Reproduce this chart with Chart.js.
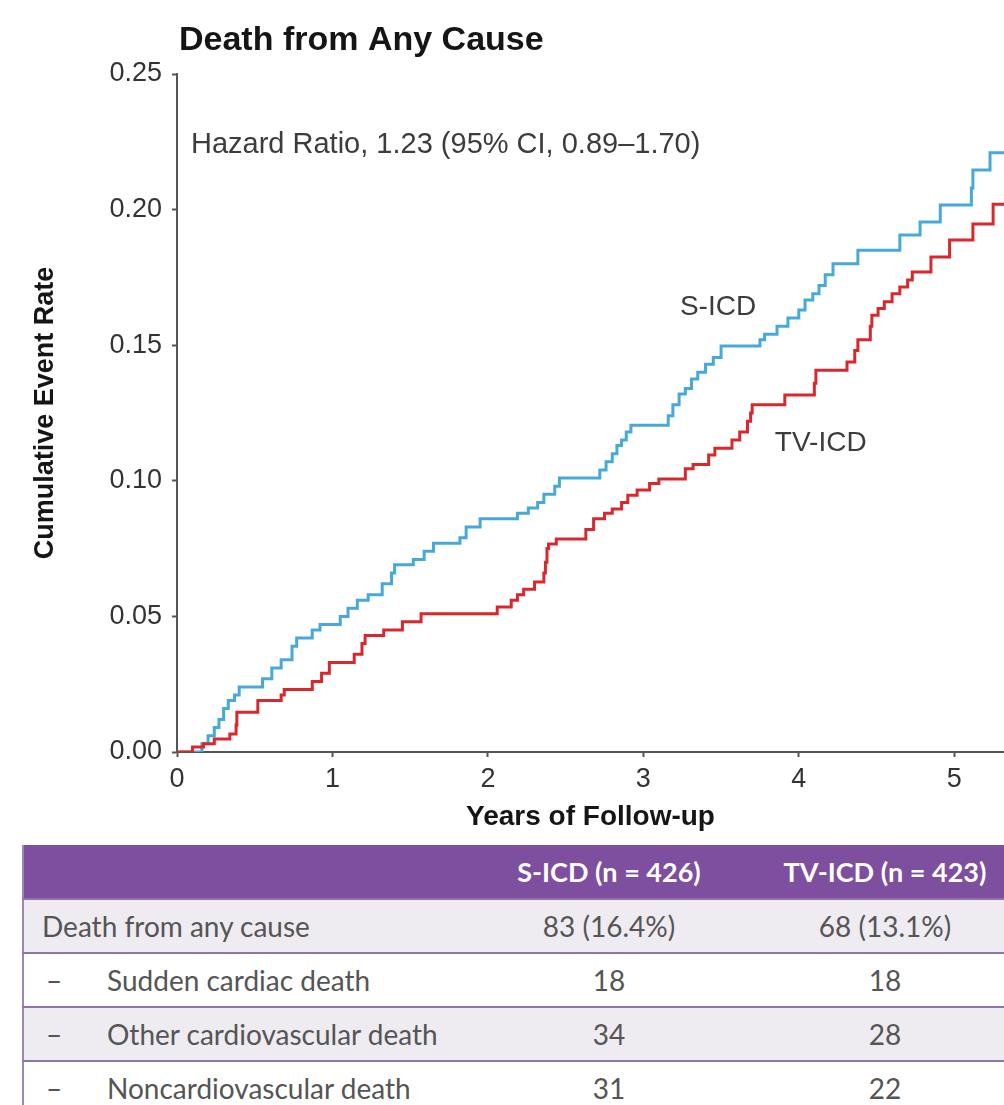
<!DOCTYPE html>
<html>
<head>
<meta charset="utf-8">
<script src="https://cdn.jsdelivr.net/npm/chart.js@4.4.0/dist/chart.umd.min.js"></script>
<style>
  body { margin:0; background:#fff; width:1004px; height:1105px; overflow:hidden; position:relative; }
  #chart { position:absolute; left:0; top:0; }
  #tbl {
    position:absolute; left:22px; top:845px; width:1010px;
    border-collapse:collapse; table-layout:fixed;
    font-family:Lato,"DejaVu Sans Condensed",sans-serif;
    font-size:28px; color:#555;
    border-left:2px solid #9c86b8;
  }
  #tbl th { background:#7d4f9e; color:#fff; font-weight:bold; font-size:27px; height:53px; padding:0; text-align:center; }
  #tbl td { height:52px; padding:0; border-top:2px solid #8f74ae; }
  #tbl tr.shade td { background:#eeebf1; }
  #tbl td.num { text-align:center; }
  #tbl td.lab { padding-left:18px; }
  #tbl .dash { display:inline-block; width:65px; padding-left:4px; box-sizing:border-box; }
</style>
</head>
<body>
<canvas id="chart" width="1004" height="845"></canvas>
<table id="tbl">
  <colgroup><col style="width:458px"><col style="width:256px"><col style="width:296px"></colgroup>
  <thead><tr id="head"></tr></thead>
  <tbody id="body"></tbody>
</table>
<script>
// S-ICD curve (years, cumulative event rate)
const sicdTimes = [0, 0.16, 0.20, 0.24, 0.27, 0.30, 0.33, 0.37, 0.40, 0.55, 0.61, 0.67, 0.74, 0.77, 0.87, 0.92,
  1.05, 1.10, 1.16, 1.23, 1.32, 1.38, 1.40, 1.52, 1.59, 1.65, 1.82, 1.86, 1.95, 2.19, 2.26, 2.32, 2.36, 2.43, 2.46,
  2.72, 2.76, 2.80, 2.83, 2.86, 2.89, 2.92, 3.16, 3.19, 3.23, 3.27, 3.31, 3.35, 3.40, 3.45, 3.50, 3.75, 3.78, 3.86,
  3.93, 4.00, 4.04, 4.09, 4.13, 4.17, 4.22, 4.38, 4.65, 4.78, 4.91, 5.11, 5.12, 5.23, 5.32];
const sicdRates = [0, .003, .006, .009, .012, .016, .019, .021, .024, .027, .031, .034, .039, .042, .045, .047,
  .050, .053, .056, .058, .062, .066, .069, .071, .074, .077, .079, .083, .086, .088, .090, .092, .095, .098, .101,
  .104, .107, .110, .113, .115, .118, .1205, .124, .128, .132, .134, .1375, .140, .143, .1455, .1497, .152, .154, .157,
  .160, .163, .1667, .169, .172, .176, .180, .185, .1906, .1954, .2017, .208, .2146, .221, .221];

// TV-ICD curve
const tvicdTimes = [0, 0.10, 0.17, 0.24, 0.34, 0.38, 0.385, 0.52, 0.67, 0.69, 0.87, 0.93, 0.98, 1.14, 1.19, 1.21,
  1.33, 1.45, 1.57, 2.06, 2.15, 2.19, 2.23, 2.30, 2.36, 2.37, 2.38, 2.39, 2.44, 2.63, 2.68, 2.75, 2.80, 2.86, 2.90,
  2.96, 3.04, 3.10, 3.27, 3.32, 3.42, 3.46, 3.57, 3.62, 3.67, 3.69, 3.70, 3.91, 4.10, 4.11, 4.31, 4.36, 4.38, 4.46,
  4.47, 4.51, 4.55, 4.60, 4.65, 4.70, 4.73, 4.85, 4.97, 5.12, 5.25, 5.32];
const tvicdRates = [0, .0018, .003, .0048, .0066, .010, .0147, .019, .021, .023, .026, .029, .033, .036, .040, .043,
  .045, .048, .051, .0535, .056, .058, .060, .0627, .066, .070, .075, .0767, .0785, .082, .086, .088, .0896, .092, .0947,
  .0966, .099, .1007, .1044, .106, .1095, .112, .115, .118, .122, .125, .128, .1316, .136, .1408, .1438, .148, .152, .157,
  .161, .1635, .166, .169, .1715, .174, .177, .1825, .1888, .1947, .202, .202];

const xTicks = [0, 1, 2, 3, 4, 5];
const yTicks = [0, 0.05, 0.10, 0.15, 0.20, 0.25];

const chartTitle = "Death from Any Cause";
const hazardText = "Hazard Ratio, 1.23 (95% CI, 0.89\u20131.70)";

// table below the chart
const tableHeader = ["", "S-ICD (n = 426)", "TV-ICD (n = 423)"];
const rowLabels = ["Death from any cause", "Sudden cardiac death", "Other cardiovascular death", "Noncardiovascular death"];
const sicdCounts = ["83 (16.4%)", "18", "34", "31"];
const tvicdCounts = ["68 (13.1%)", "18", "28", "22"];

Chart.defaults.font.family = '"Liberation Sans", Arial, sans-serif';

const toPoints = (ts, rs) => ts.map((t, i) => ({x: t, y: rs[i]}));

const textPlugin = {
  id: "texts",
  afterDraw(chart) {
    const {ctx, scales: {x, y}} = chart;
    ctx.save();
    ctx.textBaseline = "alphabetic";
    ctx.textAlign = "left";
    ctx.fillStyle = "#151515";
    ctx.font = 'bold 34px "Liberation Sans", Arial, sans-serif';
    ctx.fillText(chartTitle, 179, 50);
    ctx.fillStyle = "#3c3c3c";
    ctx.font = '29px "Liberation Sans", Arial, sans-serif';
    ctx.fillText(hazardText, x.getPixelForValue(0.09), y.getPixelForValue(0.221));
    ctx.font = '28px "Liberation Sans", Arial, sans-serif';
    ctx.fillText("S-ICD", x.getPixelForValue(3.235), y.getPixelForValue(0.161));
    ctx.fillText("TV-ICD", x.getPixelForValue(3.846), y.getPixelForValue(0.111));
    ctx.restore();
  }
};

new Chart(document.getElementById("chart"), {
  type: "line",
  data: {
    datasets: [
      {label: "TV-ICD", data: toPoints(tvicdTimes, tvicdRates), borderColor: "#d8282e"},
      {label: "S-ICD", data: toPoints(sicdTimes, sicdRates), borderColor: "#46a9d8"}
    ]
  },
  options: {
    responsive: false,
    animation: false,
    parsing: false,
    elements: {
      line: {borderWidth: 3, stepped: "before", tension: 0},
      point: {radius: 0}
    },
    layout: {padding: {top: 74, left: 0, right: 0, bottom: 0}},
    plugins: {legend: {display: false}, tooltip: {enabled: false}},
    scales: {
      x: {
        type: "linear", min: 0, max: 5.32,
        afterBuildTicks: s => { s.ticks = xTicks.map(v => ({value: v})); },
        afterFit: s => { s.height = 93; },
        grid: {drawOnChartArea: false, tickLength: 5, color: "#555", tickWidth: 2},
        border: {color: "#555", width: 2},
        ticks: {padding: 6, color: "#333", font: {size: 27}},
        title: {display: true, text: "Years of Follow-up", color: "#151515",
                font: {size: 28, weight: "bold"}, padding: {top: 0, bottom: 11}}
      },
      y: {
        type: "linear", min: 0, max: 0.25,
        afterBuildTicks: s => { s.ticks = yTicks.map(v => ({value: v})); },
        afterFit: s => { s.width = 177; },
        grid: {drawOnChartArea: false, tickLength: 5, color: "#555", tickWidth: 2},
        border: {color: "#555", width: 2},
        ticks: {padding: 10, color: "#333", font: {size: 27}, callback: v => v.toFixed(2)},
        title: {display: true, text: "Cumulative Event Rate", color: "#151515",
                font: {size: 27, weight: "bold"}, padding: {top: 29, bottom: 0}}
      }
    }
  },
  plugins: [textPlugin]
});

// build the table
const head = document.getElementById("head");
tableHeader.forEach(h => {
  const th = document.createElement("th");
  th.textContent = h;
  head.appendChild(th);
});
const body = document.getElementById("body");
rowLabels.forEach((lab, i) => {
  const tr = document.createElement("tr");
  if (i % 2 === 0) tr.className = "shade";
  const c0 = document.createElement("td");
  c0.className = "lab";
  if (i === 0) {
    c0.textContent = lab;
  } else {
    const d = document.createElement("span");
    d.className = "dash";
    d.textContent = "\u2013";
    c0.appendChild(d);
    c0.appendChild(document.createTextNode(lab));
  }
  const c1 = document.createElement("td");
  c1.className = "num";
  c1.textContent = sicdCounts[i];
  const c2 = document.createElement("td");
  c2.className = "num";
  c2.textContent = tvicdCounts[i];
  tr.append(c0, c1, c2);
  body.appendChild(tr);
});
</script>
</body>
</html>
